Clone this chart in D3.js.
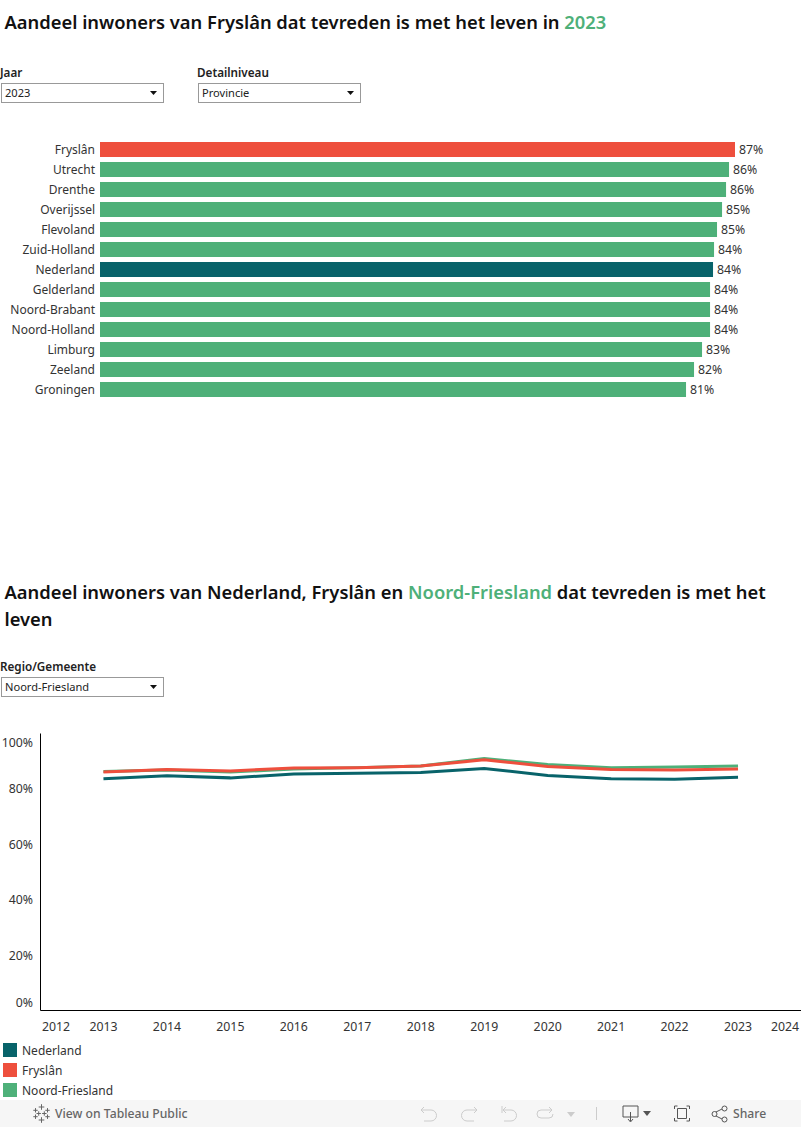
<!DOCTYPE html>
<html><head><meta charset="utf-8">
<script src="https://cdn.jsdelivr.net/npm/d3@7"></script>
<style>
html,body{margin:0;padding:0;background:#fff}
svg{display:block}
text{font-family:"Noto Sans",sans-serif;fill:#333}
</style></head><body>
<div id="chart"></div>
<script>
const GREEN="#4eb079", RED="#ee4f3d", TEAL="#08636a";
const regions=["Fryslân","Utrecht","Drenthe","Overijssel","Flevoland","Zuid-Holland","Nederland","Gelderland","Noord-Brabant","Noord-Holland","Limburg","Zeeland","Groningen"];
const shares=[87.27,86.45,86.04,85.49,84.8,84.39,84.25,83.84,83.84,83.84,82.74,81.64,80.54];
const years=[2013,2014,2015,2016,2017,2018,2019,2020,2021,2022,2023];
const yearTicks=[2012,2013,2014,2015,2016,2017,2018,2019,2020,2021,2022,2023,2024];
const pctTicks=[0,20,40,60,80,100];
const nederland=[83.5,84.6,83.8,85.2,85.5,85.7,87.2,84.7,83.5,83.3,84.0];
const fryslan=[85.9,86.8,86.3,87.4,87.5,88.1,90.3,87.9,86.8,86.6,87.0];
const noordFriesland=[86.1,86.6,85.9,87.0,87.5,88.1,90.8,88.6,87.5,87.7,88.1];
const legendItems=[["Nederland",TEAL],["Fryslân",RED],["Noord-Friesland",GREEN]];

const svg=d3.select("#chart").append("svg").attr("width",801).attr("height",1127);

function title(y,parts){
  const t=svg.append("text").attr("x",4.5).attr("y",y).style("font-size","18.35px").style("font-weight",600).style("fill","#111");
  parts.forEach(([s,c])=>t.append("tspan").text(s).style("fill",c||"#111"));
}
title(28.5,[["Aandeel inwoners van Fryslân dat tevreden is met het leven in "],["2023",GREEN]]);
title(598.5,[["Aandeel inwoners van Nederland, Fryslân en "],["Noord-Friesland",GREEN],[" dat tevreden is met het"]]);
title(626,[["leven"]]);

function dropdown(x,y,label,value){
  svg.append("text").attr("x",x).attr("y",y-6).text(label).style("font-size","11.7px").style("font-weight",600).style("fill","#222");
  svg.append("rect").attr("x",x+1.5).attr("y",y+.5).attr("width",162).attr("height",19).attr("fill","#fff").attr("stroke","#999");
  svg.append("text").attr("x",x+5).attr("y",y+13.5).text(value).style("font-size","11.1px").style("fill","#222");
  svg.append("path").attr("d",d3.line()([[x+150,y+8],[x+157,y+8],[x+153.5,y+12]])+"Z").attr("fill","#111");
}
dropdown(0,83,"Jaar","2023");
dropdown(197,83,"Detailniveau","Provincie");
dropdown(0,677,"Regio/Gemeente","Noord-Friesland");

// bars
const xBar=d3.scaleLinear().domain([0,87.27]).range([100,735]);
const yBar=d3.scaleBand().domain(regions).range([139.5,399.5]).paddingInner(.25).paddingOuter(.125);
const barColor=r=>r==="Fryslân"?RED:r==="Nederland"?TEAL:GREEN;
const rows=svg.append("g").selectAll("g").data(regions).join("g");
rows.append("rect").attr("x",xBar(0)).attr("y",r=>yBar(r)).attr("height",yBar.bandwidth())
  .attr("width",(r,i)=>xBar(shares[i])-xBar(0)).attr("fill",barColor);
rows.append("text").attr("x",95).attr("y",r=>yBar(r)+11.5).attr("text-anchor","end").text(r=>r).style("font-size","12px");
rows.append("text").attr("x",(r,i)=>xBar(shares[i])+4).attr("y",r=>yBar(r)+11.5)
  .text((r,i)=>Math.round(shares[i])+"%").style("font-size","12.3px");

// lines
const xLine=d3.scaleLinear().domain([2012,2024]).range([40,801.5]);
const yLine=d3.scaleLinear().domain([0,100]).range([1010,733]);
svg.append("g").attr("transform","translate(40,0)")
  .call(d3.axisLeft(yLine).tickValues([]).tickSize(0))
  .call(g=>g.select(".domain").attr("stroke","#000"));
svg.append("g").attr("transform","translate(0,1010)")
  .call(d3.axisBottom(xLine).tickValues([]).tickSize(0))
  .call(g=>g.select(".domain").attr("stroke","#000"));
const clampY=v=>v===0?1002:v===100?742:yLine(v);
svg.append("g").selectAll("text").data(pctTicks).join("text").attr("x",33).attr("y",v=>clampY(v)+5)
  .attr("text-anchor","end").text(v=>v+"%").style("font-size","12.3px");
const clampX=v=>v===2012?56:v===2024?785:xLine(v);
svg.append("g").selectAll("text").data(yearTicks).join("text").attr("x",clampX).attr("y",1031)
  .attr("text-anchor","middle").text(v=>v).style("font-size","12.3px");
const line=d3.line().x((d,i)=>xLine(years[i])).y(d=>yLine(d));
[[noordFriesland,GREEN],[nederland,TEAL],[fryslan,RED]].forEach(([s,c])=>{
  svg.append("path").attr("d",line(s)).attr("fill","none").attr("stroke",c).attr("stroke-width",3);
});

// legend
const lg=svg.append("g").selectAll("g").data(legendItems).join("g").attr("transform",(d,i)=>`translate(0,${1043+i*20})`);
lg.append("rect").attr("x",3).attr("width",14).attr("height",14).attr("fill",d=>d[1]);
lg.append("text").attr("x",22).attr("y",11.5).text(d=>d[0]).style("font-size","12px");

// toolbar
svg.append("rect").attr("x",0).attr("y",1100).attr("width",801).attr("height",27).attr("fill","#f6f6f6");
svg.append("text").attr("x",55).attr("y",1118).text("View on Tableau Public").style("font-size","12.2px").style("font-weight",500).style("fill","#666");
svg.append("text").attr("x",733).attr("y",1118).text("Share").style("font-size","12.2px").style("font-weight",500).style("fill","#666");
const ico=(d,c)=>svg.append("path").attr("d",d).attr("fill","none").attr("stroke",c).attr("stroke-width",1);
const star=svg.append("g").attr("transform","translate(41.5,1113.5)");
[[0,-6.5,2.8],[0,6.5,2.8],[-6,-3.2,2.2],[6,-3.2,2.2],[-6,3.2,2.2],[6,3.2,2.2],[-2.8,0,2.2],[2.8,0,2.2]].forEach(([a,b,r])=>{
  ico(`M${41.5+a-r} ${1113.5+b}h${2*r}M${41.5+a} ${1113.5+b-r}v${2*r}`,"#666");
});
star.remove();
ico("M424 1107l-3 3 3 3M421 1110h10a5.500 5.500 0 0 1 0 11h-7","#ccc");
ico("M474 1107l3 3-3 3M477 1110h-10a5.500 5.500 0 0 0 0 11h7","#ccc");
ico("M502 1106v7M506 1107l-3 3 3 3M503 1110h8a5.500 5.500 0 0 1 0 11h-7","#ccc");
ico("M549 1107l3 3-3 3M552 1110h-11a4 4 0 0 0 0 8h8a4 4 0 0 0 4-4","#ccc");
svg.append("path").attr("d","M567 1112h8l-4 5z").attr("fill","#ccc");
ico("M596.500 1107v13","#ccc");
ico("M630 1117h-7v-11h15v11h-7M630.500 1112v9M628 1119l2.500 3 2.500-3","#555");
svg.append("path").attr("d","M643 1111h8l-4 5z").attr("fill","#555");
ico("M674.500 1109v-3h3M686.500 1106h3v3M689.500 1118v3h-3M677.500 1121h-3v-3","#555");
ico("M677.500 1108.500h9v10h-9z","#555");
ico("M714 1113l8-4M714 1115l8 4","#555");
[[714.500,1114],[724.500,1108.500],[724.500,1119.500]].forEach(([a,b])=>svg.append("circle").attr("cx",a).attr("cy",b).attr("r",2.500).attr("fill","#f6f6f6").attr("stroke","#555"));
</script></body></html>
